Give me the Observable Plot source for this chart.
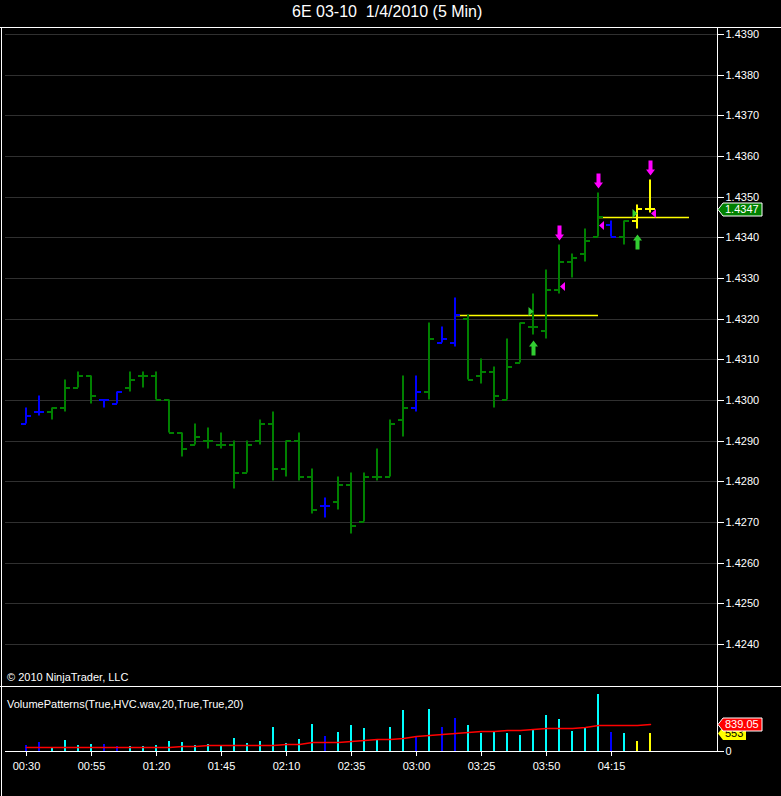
<!DOCTYPE html>
<html><head><meta charset="utf-8">
<script src="https://cdn.jsdelivr.net/npm/d3@7"></script>
<script src="https://cdn.jsdelivr.net/npm/@observablehq/plot@0.6"></script>
<style>
html,body{margin:0;padding:0;background:#000;}
#chart{position:relative;width:781px;height:796px;background:#000;overflow:hidden;font-family:"Liberation Sans",Arial,sans-serif;color:#fff;}
.abs{position:absolute;}
.hl{position:absolute;height:1px;background:#fff;}
.vl{position:absolute;width:1px;background:#fff;}
</style></head><body>
<div id="chart">
 <div class="abs" style="left:292px;top:4px;font-size:16px;line-height:16px;white-space:pre;">6E 03-10  1/4/2010 (5 Min)</div>
 <div id="price" class="abs" style="left:0;top:28px"></div>
 <div id="volume" class="abs" style="left:0;top:687px"></div>
 <div class="abs" style="left:7px;top:672px;font-size:11px;line-height:11px;">© 2010 NinjaTrader, LLC</div>
 <div class="abs" style="left:7px;top:699px;font-size:11px;line-height:11px;">VolumePatterns(True,HVC.wav,20,True,True,20)</div>
 <div class="hl" style="left:0;top:27px;width:781px"></div>
 <div class="hl" style="left:0;top:686px;width:781px"></div>
 <div class="vl" style="left:1px;top:27px;height:769px"></div>
 <div class="vl" style="left:717px;top:27px;height:725px"></div>
 <div class="hl" style="left:5px;top:751px;width:713px"></div>
</div>
<script>
// ---- data ----
const tickLabels = ["00:30","00:55","01:20","01:45","02:10","02:35","03:00","03:25","03:50","04:15"];
const tickBars = [0,5,10,15,20,25,30,35,40,45];
const priceTicks = [1.4240,1.4250,1.4260,1.4270,1.4280,1.4290,1.4300,1.4310,1.4320,1.4330,1.4340,1.4350,1.4360,1.4370,1.4380,1.4390];

const opens  = [1.4294,1.4297,1.4297,1.4298,1.4303,1.4306,1.4300,1.4299,1.4303,1.4306,1.4306,1.4300,1.4292,1.4289,1.4290,1.4289,1.4289,1.4282,1.4290,1.4294,1.4283,1.4290,1.4281,1.4274,1.4275,1.4279,1.4270,1.4281,1.4281,1.4295,1.4298,1.4302,1.4314,1.4314,1.4320,1.4306,1.4307,1.4300,1.4309,1.4318,1.4317,1.4327,1.4334,1.4336,1.4340,1.4343,1.4340,1.4344,1.4347];
const highs  = [1.4298,1.4301,1.4298,1.4305,1.4307,1.4306,1.4300,1.4302,1.4307,1.4307,1.4307,1.4300,1.4292,1.4294,1.4293,1.4292,1.4290,1.4290,1.4295,1.4297,1.4290,1.4292,1.4283,1.4276,1.4281,1.4282,1.4282,1.4288,1.4295,1.4306,1.4306,1.4319,1.4318,1.4325,1.4321,1.4310,1.4308,1.4315,1.4319,1.4326,1.4332,1.4338,1.4336,1.4342,1.4351,1.4344,1.4344,1.4348,1.4354];
const lows   = [1.4294,1.4296,1.4295,1.4297,1.4303,1.4299,1.4298,1.4299,1.4302,1.4303,1.4300,1.4292,1.4286,1.4289,1.4288,1.4288,1.4278,1.4282,1.4289,1.4280,1.4281,1.4280,1.4272,1.4271,1.4273,1.4267,1.4270,1.4280,1.4281,1.4291,1.4297,1.4300,1.4314,1.4313,1.4305,1.4304,1.4298,1.4300,1.4309,1.4316,1.4315,1.4326,1.4330,1.4334,1.4340,1.4340,1.4338,1.4342,1.4346];
const closes = [1.4296,1.4297,1.4298,1.4303,1.4306,1.4301,1.4300,1.4302,1.4305,1.4306,1.4300,1.4292,1.4288,1.4291,1.4290,1.4289,1.4282,1.4289,1.4294,1.4283,1.4290,1.4281,1.4273,1.4274,1.4279,1.4269,1.4281,1.4281,1.4294,1.4298,1.4302,1.4315,1.4315,1.4321,1.4305,1.4307,1.4301,1.4308,1.4319,1.4318,1.4327,1.4334,1.4335,1.4339,1.4345,1.4340,1.4344,1.4347,1.4347];
const barKinds = ["b","b","g","g","g","g","b","b","g","g","g","g","g","g","g","g","g","g","g","g","g","g","g","b","g","g","g","g","g","g","b","g","b","b","g","g","g","g","g","g","g","g","g","g","g","b","g","y","y"];
const volumes = [180,285,85,340,180,210,210,160,160,160,190,305,275,180,210,160,400,245,305,750,245,370,845,465,590,815,720,370,750,1300,445,1330,760,1045,825,570,635,570,505,665,1140,1015,635,760,1805,600,570,315,553];
const volumeAvg = [137,137,137,137,137,137,137,137,137,137,137,140,165,168,178,178,178,178,178,200,215,231,270,284,294,315,346,367,388,420,470,504,546,577,609,630,640,661,672,683,714,735,735,745,808,819,819,808,839.05];

const downArrowBars = [41,44,48];
const upArrowBars = [39,47];
const leftTriBars = [41,44,48];
const leftTriPrices = [1.4328,1.4343,1.4346];
const rightTriBars = [39,47];
const rightTriPrices = [1.4322,1.4346];
const levelPrices = [1.4321,1.4345];
const levelFrom = [33,44];
const levelTo = [44,51];

// ---- styling ----
const priceColor = {g:"#008000", b:"#0000ff", y:"#ffff00"};
const volColor = {g:"#00ffff", b:"#0000ff", y:"#ffff00"};
const font = "'Liberation Sans', Arial, sans-serif";
const W = 781, MR = 64, ML = 5;

const bars = opens.map((o,i)=>({i, open:o, high:highs[i], low:lows[i], close:closes[i], k:barKinds[i]}));
const vols = volumes.map((v,i)=>({i, v, k:barKinds[i]}));
const avg = volumeAvg.map((v,i)=>({i, v}));
const levels = levelPrices.map((p,j)=>({p, a:levelFrom[j], b:levelTo[j]}));

const downArrow = {draw(c){c.moveTo(0,0);c.lineTo(4.5,-6);c.lineTo(2,-6);c.lineTo(2,-15);c.lineTo(-2,-15);c.lineTo(-2,-6);c.lineTo(-4.5,-6);c.closePath();}};
const upArrow = {draw(c){c.moveTo(0,0);c.lineTo(4.5,6);c.lineTo(2,6);c.lineTo(2,15);c.lineTo(-2,15);c.lineTo(-2,6);c.lineTo(-4.5,6);c.closePath();}};
const leftTri = {draw(c){c.moveTo(-2.5,0);c.lineTo(2.5,-4.5);c.lineTo(2.5,4.5);c.closePath();}};
const rightTri = {draw(c){c.moveTo(2.5,0);c.lineTo(-2.5,-4.5);c.lineTo(-2.5,4.5);c.closePath();}};

const xScale = {type:"linear", domain:[0,45], range:[26,611], round:true, axis:null};
const baseStyle = {background:"transparent", color:"white", fontFamily:font, fontSize:"11px", overflow:"visible"};

const pricePlot = Plot.plot({
  width: W, height: 658, marginLeft: ML, marginRight: MR, marginTop: 0, marginBottom: 0,
  style: baseStyle,
  x: xScale,
  y: {type:"linear", domain:[1.4240,1.4390], range:[616,6], round:true},
  marks: [
    Plot.gridY(priceTicks, {stroke:"#303030", strokeOpacity:1}),
    Plot.ruleY(levels, {y:"p", x1:"a", x2:"b", stroke:"#ffff00", strokeWidth:1.5}),
    Plot.ruleX(bars, {x:"i", y1:"low", y2:"high", stroke:d=>priceColor[d.k], strokeWidth:2, dx:-0.5, dy:-0.5}),
    Plot.ruleY(bars, {y:"open", x1:d=>d.i-0.4, x2:"i", stroke:d=>priceColor[d.k], strokeWidth:2, dy:-0.5}),
    Plot.ruleY(bars, {y:"close", x1:"i", x2:d=>d.i+0.4, stroke:d=>priceColor[d.k], strokeWidth:2, dy:-0.5}),
    Plot.dot(downArrowBars, {x:i=>i, y:i=>highs[i], symbol:downArrow, fill:"#ff00ff", dy:-5}),
    Plot.dot(upArrowBars, {x:i=>i, y:i=>lows[i], symbol:upArrow, fill:"#32cd32", dy:5}),
    Plot.dot(leftTriBars, {x:i=>i, y:(i,j)=>leftTriPrices[j], symbol:leftTri, fill:"#ff00ff", dx:3}),
    Plot.dot(rightTriBars, {x:i=>i, y:(i,j)=>rightTriPrices[j], symbol:rightTri, fill:"#32cd32", dx:-2.5}),
    Plot.axisY({anchor:"right", ticks:priceTicks, tickFormat:d3.format(".4f"), tickSize:6, tickPadding:2, label:null})
  ]
});
document.getElementById("price").appendChild(pricePlot);

const volPlot = Plot.plot({
  width: W, height: 109, marginLeft: ML, marginRight: MR, marginTop: 0, marginBottom: 45,
  style: baseStyle,
  x: xScale,
  y: {type:"linear", domain:[0,2000], range:[64,0.7], round:true},
  marks: [
    Plot.ruleX(vols, {x:"i", y1:0, y2:"v", stroke:d=>volColor[d.k], strokeWidth:2, dx:-0.5}),
    Plot.line(avg, {x:"i", y:"v", stroke:"#ff0000", strokeWidth:1.5}),
    Plot.axisX({ticks:tickBars, tickFormat:d=>tickLabels[tickBars.indexOf(d)], tickSize:5, tickPadding:6, label:null}),
    Plot.axisY({anchor:"right", ticks:[0], tickFormat:d=>String(d), tickSize:6, tickPadding:2, label:null})
  ]
});
document.getElementById("volume").appendChild(volPlot);

// value flags on the right axis, positioned through the plots' own y scales
function flag(svgEl, yVal, text, fill, textColor, boxW, border) {
  const y = svgEl.scale("y").apply(yVal) + 0.5;
  const x0 = W - MR + 1;
  const g = d3.select(svgEl).append("g");
  g.append("path")
    .attr("d", `M${x0},${y}L${x0+5},${y-6.5}L${x0+boxW},${y-6.5}L${x0+boxW},${y+6.5}L${x0+5},${y+6.5}Z`)
    .attr("fill", fill).attr("stroke", border ? "#fff" : "none").attr("stroke-width", 1);
  g.append("text").attr("x", x0+7).attr("y", y).attr("dy", "0.36em")
    .attr("text-anchor", "start")
    .attr("fill", textColor).attr("font-size", 11).attr("font-family", font).text(text);
}
flag(pricePlot, closes[closes.length-1], d3.format(".4f")(closes[closes.length-1]), "#008000", "#fff", 44, true);
flag(volPlot, volumes[volumes.length-1], String(volumes[volumes.length-1]), "#ffff00", "#000", 28, false);
flag(volPlot, volumeAvg[volumeAvg.length-1], d3.format(".2f")(volumeAvg[volumeAvg.length-1]), "#ff0000", "#fff", 44, true);
</script>
</body></html>
